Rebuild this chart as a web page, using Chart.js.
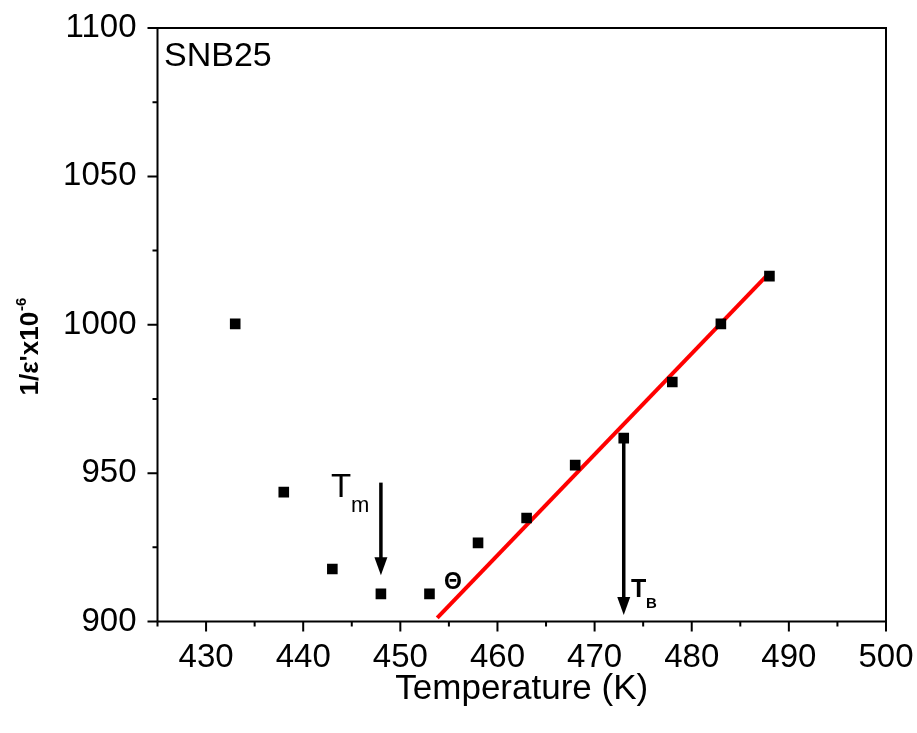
<!DOCTYPE html>
<html>
<head>
<meta charset="utf-8">
<script src="https://cdn.jsdelivr.net/npm/chart.js@4.4.1/dist/chart.umd.min.js"></script>
<style>
  html, body { margin: 0; padding: 0; background: #fff; }
  #wrap { width: 917px; height: 733px; }
</style>
</head>
<body>
<div id="wrap"><canvas id="myChart" width="917" height="733"></canvas></div>
<script>
// data
const temps = [433, 438, 443, 448, 453, 458, 463, 468, 473, 478, 483, 488];
const invEps = [1000.3, 943.6, 917.7, 909.3, 909.3, 926.5, 934.9, 952.7, 961.8, 980.7, 1000.3, 1016.4];
// linear (Curie-Weiss) fit line end points
const fitX = [453.8, 487.8];
const fitY = [901.2, 1016.8];
const xTicks = [430, 440, 450, 460, 470, 480, 490, 500];
const yTicks = [900, 950, 1000, 1050, 1100];
// arrows: [x, fromY, toY]
const tmArrow = [448, 946.8, 915.6];
const tbArrow = [473, 961.8, 902.2];

const FONT = "'Liberation Sans', Arial, sans-serif";

const extras = {
  id: "extras",
  afterDraw(chart) {
    const ctx = chart.ctx;
    const xs = chart.scales.x;
    const ys = chart.scales.y;
    const a = chart.chartArea;
    ctx.save();
    ctx.strokeStyle = "#000";
    ctx.lineWidth = 2;
    // frame
    ctx.beginPath();
    ctx.moveTo(a.left, a.bottom);
    ctx.lineTo(a.left, a.top);
    ctx.lineTo(a.right, a.top);
    ctx.lineTo(a.right, a.bottom);
    ctx.lineTo(a.left, a.bottom);
    ctx.stroke();
    // ticks outward, minor every 5 on x, every 25 on y
    ctx.beginPath();
    for (let v = 425; v <= 500; v += 5) {
      const px = xs.getPixelForValue(v);
      const len = v % 10 === 0 ? 10 : 5;
      ctx.moveTo(px, a.bottom);
      ctx.lineTo(px, a.bottom + len);
    }
    for (let v = 900; v <= 1100; v += 25) {
      const py = ys.getPixelForValue(v);
      const len = v % 50 === 0 ? 10 : 5;
      ctx.moveTo(a.left, py);
      ctx.lineTo(a.left - len, py);
    }
    ctx.stroke();

    // arrows
    ctx.fillStyle = "#000";
    [tmArrow, tbArrow].forEach(function (ar) {
      const px = xs.getPixelForValue(ar[0]);
      const y1 = ys.getPixelForValue(ar[1]);
      const y2 = ys.getPixelForValue(ar[2]);
      ctx.lineWidth = 3.5;
      ctx.beginPath();
      ctx.moveTo(px, y1);
      ctx.lineTo(px, y2 - 14);
      ctx.stroke();
      ctx.beginPath();
      ctx.moveTo(px - 6.5, y2 - 18);
      ctx.lineTo(px + 6.5, y2 - 18);
      ctx.lineTo(px, y2);
      ctx.closePath();
      ctx.fill();
    });

    // text labels
    ctx.textBaseline = "alphabetic";
    ctx.textAlign = "left";
    ctx.font = "34px " + FONT;
    ctx.fillText("SNB25", 164, 66);
    ctx.font = "33px " + FONT;
    ctx.fillText("T", 331, 497);
    ctx.font = "22px " + FONT;
    ctx.fillText("m", 351, 512);
    ctx.font = "bold 23px " + FONT;
    ctx.fillText("\u0398", 444, 589);
    ctx.font = "bold 25px " + FONT;
    ctx.fillText("T", 631, 597);
    ctx.font = "bold 15px " + FONT;
    ctx.fillText("B", 646, 608);

    // y axis title, rotated
    ctx.translate(38, 347);
    ctx.rotate(-Math.PI / 2);
    ctx.textAlign = "left";
    ctx.font = "bold 26px " + FONT;
    const main = "1/\u03b5'x10";
    const w = ctx.measureText(main).width;
    ctx.font = "bold 15px " + FONT;
    const w2 = ctx.measureText("-6").width;
    const start = -(w + w2) / 2;
    ctx.font = "bold 26px " + FONT;
    ctx.fillText(main, start, 0);
    ctx.font = "bold 15px " + FONT;
    ctx.fillText("-6", start + w + 1, -12);
    ctx.restore();
  }
};

const config = {
  type: "scatter",
  data: {
    datasets: [
      {
        label: "SNB25",
        data: temps.map((t, i) => ({ x: t, y: invEps[i] })),
        pointStyle: "rect",
        pointRadius: 7.5,
        pointHoverRadius: 7.5,
        backgroundColor: "#000",
        borderColor: "#000",
        borderWidth: 0,
        order: 1
      },
      {
        label: "fit",
        type: "line",
        data: fitX.map((t, i) => ({ x: t, y: fitY[i] })),
        borderColor: "#ff0000",
        borderWidth: 4,
        pointRadius: 0,
        fill: false,
        order: 2
      }
    ]
  },
  options: {
    responsive: false,
    animation: false,
    layout: { padding: { top: 28, right: 31, left: 0, bottom: 0 } },
    plugins: { legend: { display: false }, tooltip: { enabled: false } },
    scales: {
      x: {
        type: "linear",
        min: 425,
        max: 500,
        grid: { display: false },
        border: { display: false },
        afterBuildTicks(scale) {
          scale.ticks = xTicks.map(v => ({ value: v }));
        },
        afterFit(scale) {
          scale.height = 733 - 621.5;
          scale.paddingLeft = 0;
          scale.paddingRight = 0;
        },
        ticks: {
          color: "#000",
          font: { family: FONT, size: 33 },
          padding: 9,
          maxRotation: 0,
          callback: v => String(v)
        },
        title: {
          display: true,
          text: "Temperature (K)",
          color: "#000",
          font: { family: FONT, size: 35 },
          padding: { top: 0, bottom: 23 }
        }
      },
      y: {
        min: 900,
        max: 1100,
        grid: { display: false },
        border: { display: false },
        afterBuildTicks(scale) {
          scale.ticks = yTicks.map(v => ({ value: v }));
        },
        afterFit(scale) {
          scale.width = 157.5;
          scale.paddingTop = 0;
          scale.paddingBottom = 0;
        },
        ticks: {
          color: "#000",
          font: { family: FONT, size: 33 },
          padding: 13,
          callback: v => String(v)
        }
      }
    }
  },
  plugins: [extras]
};

const myChart = new Chart(document.getElementById("myChart"), config);
</script>
</body>
</html>
